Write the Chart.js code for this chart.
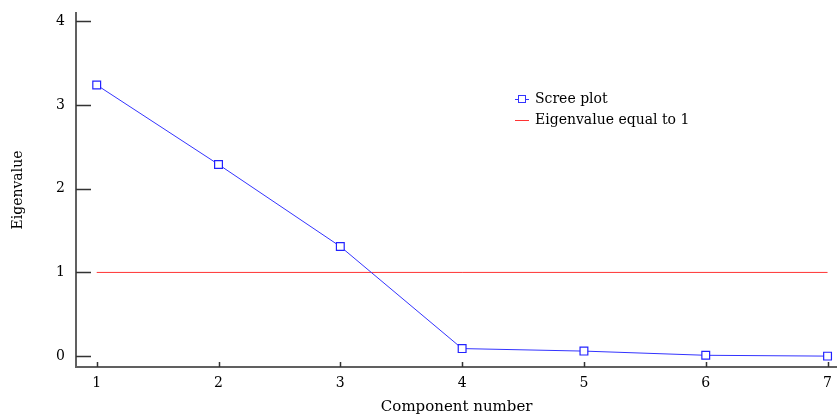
<!DOCTYPE html>
<html>
<head>
<meta charset="utf-8">
<script src="https://cdn.jsdelivr.net/npm/chart.js@4"></script>
<style>
  html, body { margin: 0; padding: 0; background: #fff; overflow: hidden; }
  #outer { width: 837px; height: 416px; overflow: hidden; }
  #wrap { width: 844px; height: 416px; position: relative; }
</style>
</head>
<body>
<div id="outer"><div id="wrap"><canvas id="canvas"></canvas></div></div>
<script>
// scree plot data
var components = [1, 2, 3, 4, 5, 6, 7];
var eigenvalues = [3.24, 2.29, 1.31, 0.09, 0.06, 0.01, 0.00];
var refX = [1, 7];
var refY = [1, 1];
var xTicks = [1, 2, 3, 4, 5, 6, 7];
var yTicks = [0, 1, 2, 3, 4];

var FONT = '"DejaVu Serif", "Liberation Serif", serif';
var AXIS = '#606060';

// tick marks pointing into the plot + legend box
var extras = {
  id: 'extras',
  afterDraw: function (chart) {
    var c = chart.ctx, a = chart.chartArea;
    var xs = chart.scales.x, ys = chart.scales.y;
    c.save();
    c.strokeStyle = '#333';
    c.lineWidth = 1.5;
    c.beginPath();
    yTicks.forEach(function (v) {
      var py = Math.round(ys.getPixelForValue(v)) + 0.5;
      c.moveTo(a.left, py); c.lineTo(a.left + 15, py);
    });
    xTicks.forEach(function (v) {
      var px = Math.round(xs.getPixelForValue(v)) + 0.5;
      c.moveTo(px, a.bottom); c.lineTo(px, a.bottom - 5);
    });
    c.stroke();

    // legend
    var lx = 515, ly = 99;
    c.strokeStyle = '#3333ff';
    c.lineWidth = 1;
    c.beginPath(); c.moveTo(lx, ly + 0.5); c.lineTo(lx + 14, ly + 0.5); c.stroke();
    c.fillStyle = '#fff';
    c.fillRect(lx + 3.5, ly - 3.5, 7, 7);
    c.strokeRect(lx + 3.5, ly - 3.5, 7, 7);
    c.strokeStyle = '#ff3333';
    c.beginPath(); c.moveTo(lx, ly + 21.5); c.lineTo(lx + 14, ly + 21.5); c.stroke();
    c.fillStyle = '#000';
    c.font = '14px ' + FONT;
    c.textBaseline = 'middle';
    c.fillText('Scree plot', lx + 20, ly);
    c.fillText('Eigenvalue equal to 1', lx + 20, ly + 21);
    c.restore();
  }
};

var ctx = document.getElementById('canvas').getContext('2d');
var myChart = new Chart(ctx, {
  type: 'line',
  data: {
    datasets: [{
      label: 'Scree plot',
      data: components.map(function (c, i) { return { x: c, y: eigenvalues[i] }; }),
      borderColor: '#3333ff',
      borderWidth: 1,
      pointStyle: 'rect',
      pointRadius: 5.5,
      pointBorderWidth: 1.2,
      pointBackgroundColor: '#fff',
      pointBorderColor: '#2222ff',
      tension: 0
    }, {
      label: 'Eigenvalue equal to 1',
      data: refX.map(function (x, i) { return { x: x, y: refY[i] }; }),
      borderColor: '#ff3333',
      borderWidth: 1,
      pointRadius: 0,
      tension: 0
    }]
  },
  options: {
    responsive: true,
    maintainAspectRatio: false,
    animation: false,
    layout: { padding: { top: 13, right: 0, left: 0, bottom: 0 } },
    plugins: { legend: { display: false }, tooltip: { enabled: false } },
    scales: {
      x: {
        type: 'linear',
        min: 0.83,
        max: 7.08,
        afterBuildTicks: function (s) { s.ticks = xTicks.map(function (v) { return { value: v }; }); },
        afterFit: function (s) { s.height = 49; },
        grid: { drawOnChartArea: false, drawTicks: false },
        border: { color: AXIS, width: 2 },
        ticks: { color: '#000', padding: 8, font: { family: FONT, size: 14 }, maxRotation: 0 },
        title: { display: true, text: 'Component number', color: '#000', font: { family: FONT, size: 15 }, padding: 0 }
      },
      y: {
        min: -0.13,
        max: 4.1,
        afterBuildTicks: function (s) { s.ticks = yTicks.map(function (v) { return { value: v }; }); },
        afterFit: function (s) { s.width = 76; s.paddingTop = 0; s.paddingBottom = 0; },
        grid: { drawOnChartArea: false, drawTicks: false },
        border: { color: AXIS, width: 2 },
        ticks: { color: '#000', padding: 11, font: { family: FONT, size: 14 } },
        title: { display: true, text: 'Eigenvalue', color: '#000', font: { family: FONT, size: 14 }, padding: { top: 10, bottom: 0 } }
      }
    }
  },
  plugins: [extras]
});
</script>
</body>
</html>
